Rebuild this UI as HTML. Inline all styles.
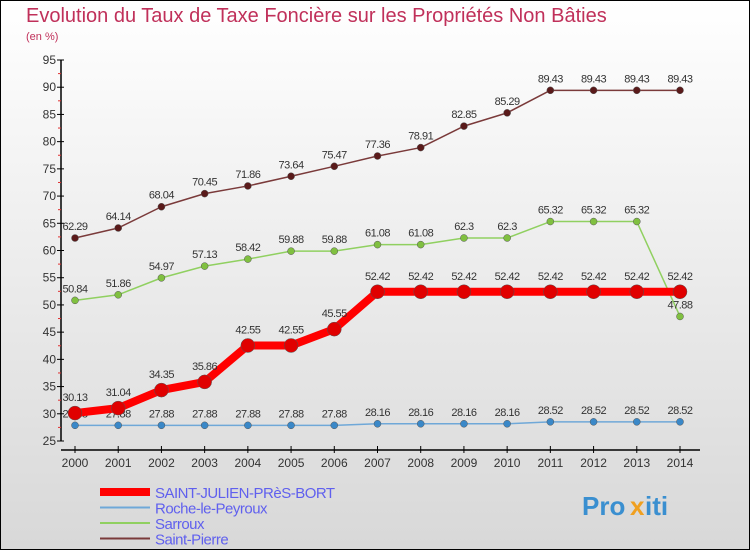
<!DOCTYPE html>
<html><head><meta charset="utf-8"><style>
body{margin:0;}
#c{width:750px;height:550px;position:relative;box-sizing:border-box;border:1px solid #000;background:linear-gradient(#fff,#d8d8d8);overflow:hidden;font-family:"Liberation Sans",sans-serif;}
</style></head><body>
<div id="c">
<svg id="s" width="750" height="550" style="position:absolute;left:-1px;top:-1px">
<text x="26" y="22" font-size="20" fill="#c0305a">Evolution du Taux de Taxe Foncière sur les Propriétés Non Bâties</text>
<text x="26" y="40" font-size="11" fill="#c0305a">(en %)</text>
<g id="ax"></g><g id="series"></g><g id="legend"></g>
<g font-size="26" font-weight="bold">
<text x="582" y="515" fill="#3a8fd0">Pro</text><text x="630" y="515" fill="#f0a020">x</text><text x="645" y="515" fill="#3a8fd0">iti</text>
</g>
</svg>
</div>
<script>
const years=[2000,2001,2002,2003,2004,2005,2006,2007,2008,2009,2010,2011,2012,2013,2014];
const yTicks=[25,30,35,40,45,50,55,60,65,70,75,80,85,90,95];
const sjValues=[30.13,31.04,34.35,35.86,42.55,42.55,45.55,52.42,52.42,52.42,52.42,52.42,52.42,52.42,52.42];
const rocheValues=[27.88,27.88,27.88,27.88,27.88,27.88,27.88,28.16,28.16,28.16,28.16,28.52,28.52,28.52,28.52];
const sarrouxValues=[50.84,51.86,54.97,57.13,58.42,59.88,59.88,61.08,61.08,62.3,62.3,65.32,65.32,65.32,47.88];
const stPierreValues=[62.29,64.14,68.04,70.45,71.86,73.64,75.47,77.36,78.91,82.85,85.29,89.43,89.43,89.43,89.43];
const seriesNames=["SAINT-JULIEN-PRèS-BORT","Roche-le-Peyroux","Sarroux","Saint-Pierre"];
const NS="http://www.w3.org/2000/svg";
const X=i=>75+i*(605/14);
const Y=v=>441-(v-25)*(381/70);
function mk(p,t,a){const e=document.createElementNS(NS,t);for(const k in a)e.setAttribute(k,a[k]);p.appendChild(e);return e;}
const ax=document.getElementById('ax');
mk(ax,'line',{x1:61,y1:Y(95),x2:61,y2:Y(25),stroke:'#000','stroke-width':1.5});
mk(ax,'line',{x1:61,y1:450,x2:700,y2:450,stroke:'#000','stroke-width':1.5});
yTicks.forEach(v=>{
 mk(ax,'line',{x1:57,y1:Y(v),x2:64,y2:Y(v),stroke:'#000'});
 if(v<95)mk(ax,'line',{x1:58,y1:Y(v+2.5),x2:61,y2:Y(v+2.5),stroke:'#e03030'});
 const t=mk(ax,'text',{x:56,y:Y(v)+4,'text-anchor':'end','font-size':12,fill:'#333'});t.textContent=v;
 
 
});
years.forEach((y,i)=>{
 mk(ax,'line',{x1:X(i),y1:446,x2:X(i),y2:453,stroke:'#000'});
 const t=mk(ax,'text',{x:X(i),y:467,'text-anchor':'middle','font-size':12,fill:'#333'});t.textContent=y;
 
 
});
const sg=document.getElementById('series');
function draw(vals,color,w,r,dot,name,lblOff){
 const g=mk(sg,'g',{});
 
 
 mk(g,'polyline',{points:vals.map((v,i)=>X(i)+','+Y(v)).join(' '),fill:'none',stroke:color,'stroke-width':w,'stroke-linejoin':'round'});
 vals.forEach((v,i)=>{
  const c=mk(g,'circle',{cx:X(i),cy:Y(v),r:r,fill:dot,stroke:'#555','stroke-width':0.5});
  
  
  const t=mk(g,'text',{x:X(i),y:Y(v)-lblOff,'text-anchor':'middle','font-size':11,fill:'#333','letter-spacing':'-0.5'});t.textContent=v;
  
  
 });
}
draw(stPierreValues,'#7a3a3a',1.5,3.5,'#5a1a1a','saint-pierre-series',8);
draw(sarrouxValues,'#90d060',1.5,3.5,'#80c040','sarroux-series',8);
draw(rocheValues,'#6fa8d8',1.5,3.5,'#3a88c8','roche-series',8);
draw(sjValues,'#ff0000',8,7,'#e00000','saint-julien-series',12);
const lg=document.getElementById('legend');
const lc=['#ff0000','#6fa8d8','#90d060','#7a3a3a'],lw=[8,2,2,2];
seriesNames.forEach((n,i)=>{
 const y=492+i*15.5;
 const g=mk(lg,'g',{});
 
 
 mk(g,'line',{x1:100,y1:y,x2:150,y2:y,stroke:lc[i],'stroke-width':lw[i]});
 const t=mk(g,'text',{x:155,y:y+6,'font-size':15,fill:'#6060ee','letter-spacing':'-0.5'});t.textContent=n;
});
</script>
</body></html>
